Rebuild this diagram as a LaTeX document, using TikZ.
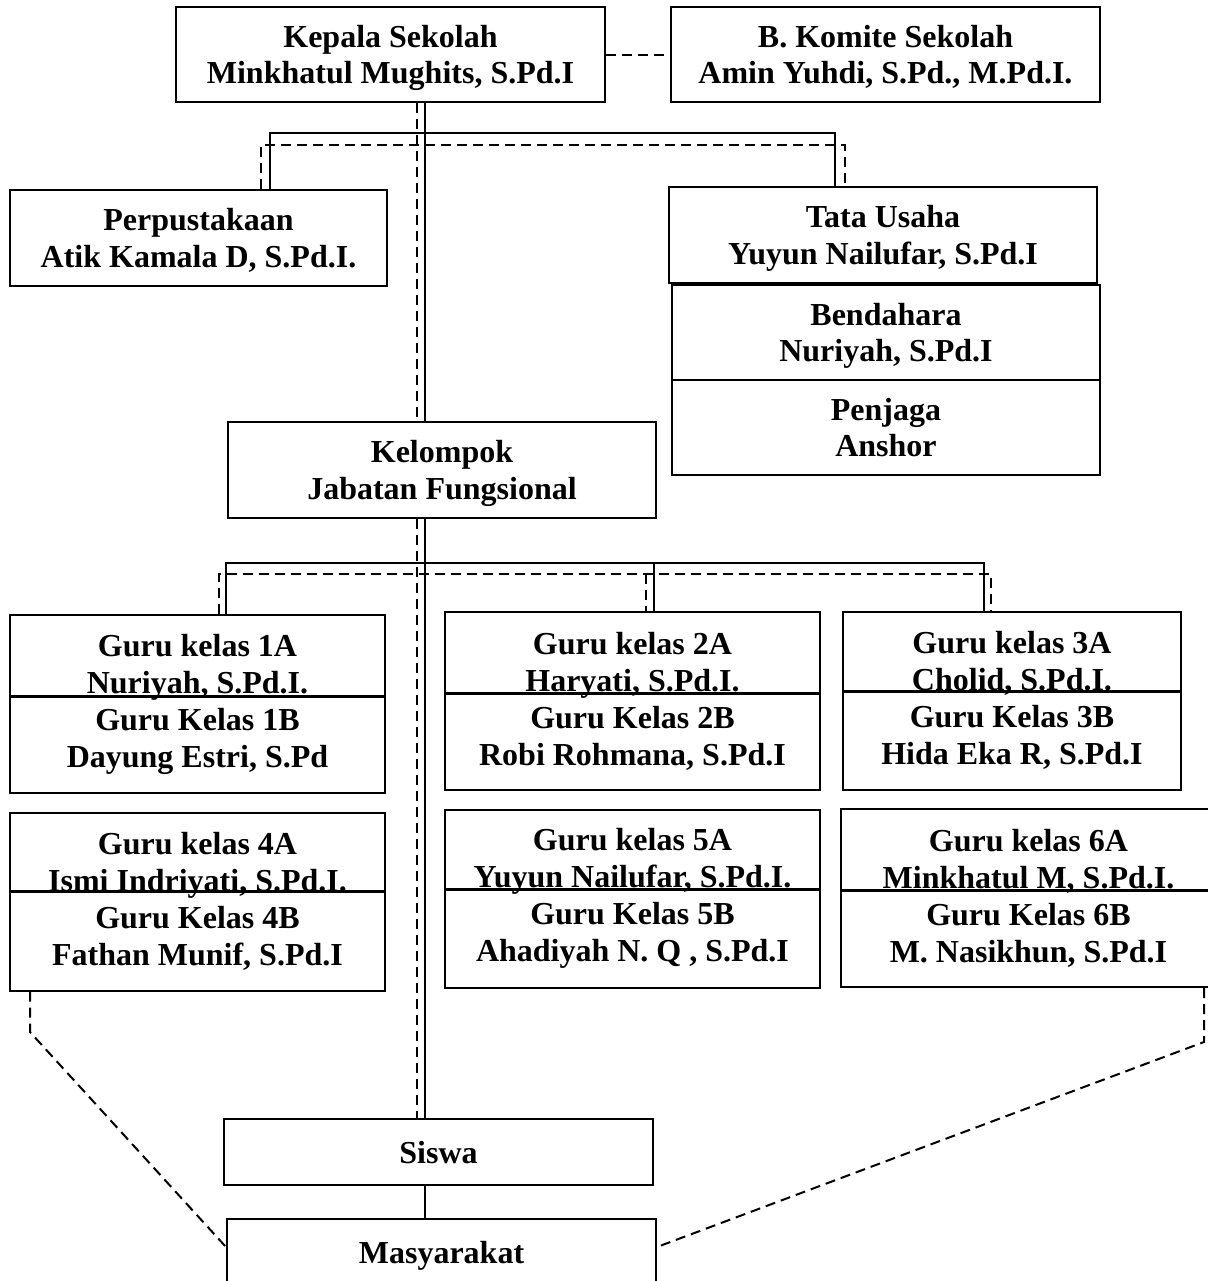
\documentclass[tikz,border=0pt]{standalone}
\usepackage{fontspec}
\setmainfont{Liberation Serif}
\begin{document}
\begin{tikzpicture}[x=0.5pt,y=-0.5pt]
  \tikzset{
    box/.style={draw,line width=1pt,align=center,inner sep=0pt,text depth=0pt,
      font=\fontsize{16}{18.2}\selectfont\bfseries,
      minimum width=214.5pt,minimum height=47.5pt},
    kelas/.style={draw,line width=1pt,align=center,inner sep=0pt,
      font=\fontsize{16}{18.5}\selectfont\bfseries,
      minimum width=187.5pt,minimum height=89pt},
    link/.style={line width=1.3pt},
    dlink/.style={line width=1pt,dash pattern=on 5pt off 3pt},
    sekat/.style={line width=1.5pt}
  }
  \useasboundingbox (0,0) rectangle (1208,1281);
  \node[box] (kepsek) at (390.5,54.5) {Kepala Sekolah\\Minkhatul Mughits, S.Pd.I};
  \node[box] (komite) at (885.5,54.5) {B. Komite Sekolah\\Amin Yuhdi, S.Pd., M.Pd.I.};
  \node[box,minimum width=188.5pt,minimum height=48pt] (perpus) at (198.5,238) {Perpustakaan\\Atik Kamala D, S.Pd.I.};
  \node[box,minimum width=214pt,minimum height=48pt] (tu) at (883,235) {Tata Usaha\\Yuyun Nailufar, S.Pd.I};
  \node[box,minimum width=214pt] (bendahara) at (886,332.5) {Bendahara\\Nuriyah, S.Pd.I};
  \node[box,minimum width=214pt] (penjaga) at (886,427.5) {Penjaga\\Anshor};
  \node[box,minimum width=214pt,minimum height=48pt] (kelompok) at (442,470) {Kelompok\\Jabatan Fungsional};

  \node[kelas] (k1) at (197.5,704) {Guru kelas 1A\\Nuriyah, S.Pd.I.\\Guru Kelas 1B\\Dayung Estri, S.Pd};
  \node[kelas] (k2) at (632.5,701) {Guru kelas 2A\\Haryati, S.Pd.I.\\Guru Kelas 2B\\Robi Rohmana, S.Pd.I};
  \node[kelas,minimum width=169pt] (k3) at (1012,700.5) {Guru kelas 3A\\Cholid, S.Pd.I.\\Guru Kelas 3B\\Hida Eka R, S.Pd.I};
  \node[kelas] (k4) at (197.5,901.5) {Guru kelas 4A\\Ismi Indriyati, S.Pd.I.\\Guru Kelas 4B\\Fathan Munif, S.Pd.I};
  \node[kelas] (k5) at (632.5,898.5) {Guru kelas 5A\\Yuyun Nailufar, S.Pd.I.\\Guru Kelas 5B\\Ahadiyah N. Q , S.Pd.I};
  \node[kelas] (k6) at (1028.5,898) {Guru kelas 6A\\Minkhatul M, S.Pd.I.\\Guru Kelas 6B\\M. Nasikhun, S.Pd.I};
  \foreach \k/\d in {k1/41pt,k2/41pt,k3/40.5pt,k4/40pt,k5/40.5pt,k6/41pt}
    \draw[sekat] ([yshift=-\d]\k.north west) -- ([yshift=-\d]\k.north east);

  \node[box,minimum height=33pt] (siswa) at (438.5,1152) {Siswa};
  \node[box,minimum height=33pt] (masy) at (441.5,1252) {Masyarakat};

  \coordinate (tk) at (425,0);
  \coordinate (dk) at (417,0);
  \draw[link] (kepsek.south -| tk) -- (kelompok.north -| tk);
  \draw[link] (kelompok.south -| tk) -- (siswa.north -| tk);
  \draw[link] (siswa.south -| tk) -- (masy.north -| tk);
  \draw[dlink] (kepsek.south -| dk) -- (kelompok.north -| dk);
  \draw[dlink] (kelompok.south -| dk) -- (siswa.north -| dk);
  \draw[dlink] (kepsek) -- (komite);

  \coordinate (ta) at (270,133);
  \coordinate (tb) at (835,133);
  \coordinate (da) at (261,145);
  \coordinate (db) at (845,145);
  \draw[link] (perpus.north -| ta) -- (ta) -- (tb) -- (tu.north -| tb);
  \draw[dlink] (perpus.north -| da) -- (da) -- (db) -- (tu.north -| db);

  \coordinate (ma) at (226,563);
  \coordinate (mb) at (984,563);
  \coordinate (mc) at (654,563);
  \coordinate (na) at (219,574);
  \coordinate (nb) at (991,574);
  \coordinate (nc) at (646,574);
  \draw[link] (k1.north -| ma) -- (ma) -- (mb) -- (k3.north -| mb);
  \draw[link] (mc) -- (k2.north -| mc);
  \draw[dlink] (k1.north -| na) -- (na) -- (nb) -- (k3.north -| nb);
  \draw[dlink] (nc) -- (k2.north -| nc);

  \coordinate (la) at (30,1032);
  \coordinate (ra) at (1204,1042);
  \draw[dlink] (k4.south -| la) -- (la) -- ([yshift=2.5pt]masy.west);
  \draw[dlink] (k6.south -| ra) -- (ra) -- ([yshift=2.5pt]masy.east);
\end{tikzpicture}
\end{document}
